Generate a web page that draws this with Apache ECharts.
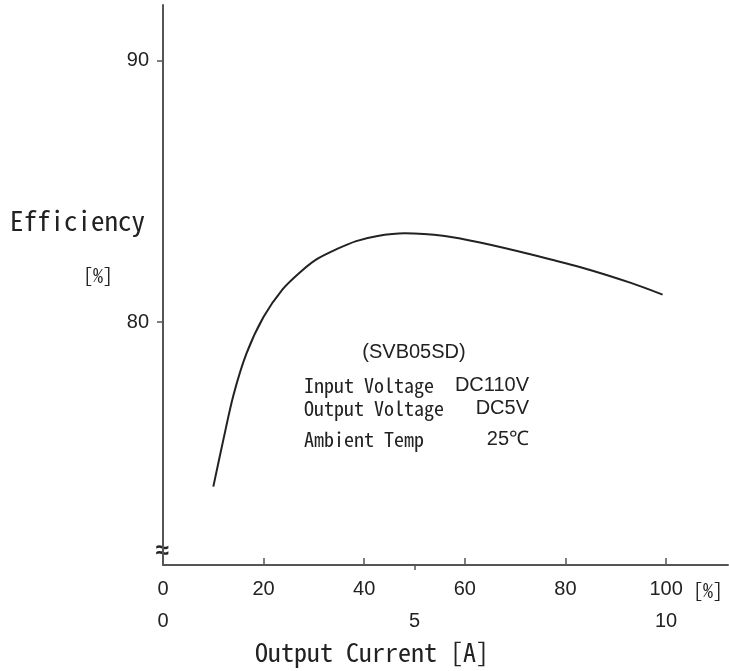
<!DOCTYPE html>
<html>
<head>
<meta charset="utf-8">
<script src="https://cdn.jsdelivr.net/npm/echarts@6/dist/echarts.min.js"></script>
<style>
  html, body { margin: 0; padding: 0; background: #fff; }
  #chart { width: 729px; height: 671px; }
</style>
</head>
<body>
<div id="chart"></div>
<script>
// efficiency curve (x in % of rated current)
const currentPct = [10, 12, 14, 16.6, 20, 23.8, 27.2, 30.5, 34.5, 38.4, 42.4, 48, 56, 63, 73, 83, 93, 99.3]
const efficiency = [73.7, 75.5, 77.2, 78.8, 80.2, 81.26, 81.9, 82.4, 82.79, 83.1, 83.29, 83.4, 83.3, 83.05, 82.6, 82.1, 81.5, 81.05]

const pctTicks = [0, 20, 40, 60, 80, 100]
const ampTicks = [0, 5, 10]
const effTicks = [80, 90]

const noteLines = [
  ['Input Voltage', 'DC110V'],
  ['Output Voltage', 'DC5V'],
  ['Ambient Temp', '25℃']
]

const mono = '"Noto Sans Mono CJK JP", "DejaVu Sans Mono", monospace'
const sans = '"Liberation Sans", Arial, sans-serif'
const ink = '#222'
const axisColor = '#555'

const chart = echarts.init(document.getElementById('chart'))

function txt (x, y, text, font, align, valign) {
  return {
    type: 'text',
    x: x,
    y: y,
    silent: true,
    style: {
      text: text,
      font: font,
      fill: ink,
      textAlign: align || 'left',
      textVerticalAlign: valign || 'middle',
      align: align || 'left',
      verticalAlign: valign || 'middle'
    }
  }
}

const noteY = [385, 408, 439]
const graphics = [
  txt(10, 221, 'Efficiency', '27px ' + mono),
  txt(98, 275, '[%]', '20px ' + mono, 'center'),
  txt(255, 652, 'Output Current [A]', '26px ' + mono),
  txt(693, 590, '[%]', '20px ' + mono),
  txt(162, 551, '≈', 'bold 24px ' + sans, 'center'),
  txt(414, 352, '(SVB05SD)', '20px ' + sans, 'center')
]
noteLines.forEach((line, i) => {
  graphics.push(txt(304, noteY[i], line[0], '20px ' + mono))
  graphics.push(txt(529, noteY[i], line[1], '20px ' + sans, 'right'))
})

const option = {
  animation: false,
  backgroundColor: '#fff',
  grid: { left: 163, right: 1, top: 5, bottom: 106 },
  xAxis: [
    {
      type: 'value',
      min: 0,
      max: 112.3,
      position: 'bottom',
      splitLine: { show: false },
      axisLine: { show: true, onZero: false, lineStyle: { color: axisColor, width: 2 } },
      axisTick: {
        show: true,
        inside: true,
        length: 7,
        customValues: pctTicks.filter(v => v > 0),
        lineStyle: { color: axisColor, width: 1.5 }
      },
      axisLabel: {
        customValues: pctTicks,
        margin: 14,
        color: ink,
        fontFamily: sans,
        fontSize: 20
      }
    },
    {
      type: 'value',
      min: 0,
      max: 11.23,
      position: 'bottom',
      splitLine: { show: false },
      axisLine: { show: false, onZero: false },
      axisTick: {
        show: true,
        length: 5,
        customValues: [5],
        lineStyle: { color: axisColor, width: 1.5 }
      },
      axisLabel: {
        customValues: ampTicks,
        margin: 46,
        color: ink,
        fontFamily: sans,
        fontSize: 20
      }
    }
  ],
  yAxis: {
    type: 'value',
    min: 70.7,
    max: 92.14,
    splitLine: { show: false },
    axisLine: { show: true, onZero: false, lineStyle: { color: axisColor, width: 2 } },
    axisTick: {
      show: true,
      length: 6,
      customValues: effTicks,
      lineStyle: { color: axisColor, width: 1.5 }
    },
    axisLabel: {
      customValues: effTicks,
      margin: 14,
      color: ink,
      fontFamily: sans,
      fontSize: 20
    }
  },
  graphic: graphics,
  series: [
    {
      type: 'line',
      xAxisIndex: 0,
      smooth: 0.3,
      showSymbol: false,
      lineStyle: { color: ink, width: 2 },
      data: currentPct.map((x, i) => [x, efficiency[i]])
    }
  ]
}

chart.setOption(option)
</script>
</body>
</html>
